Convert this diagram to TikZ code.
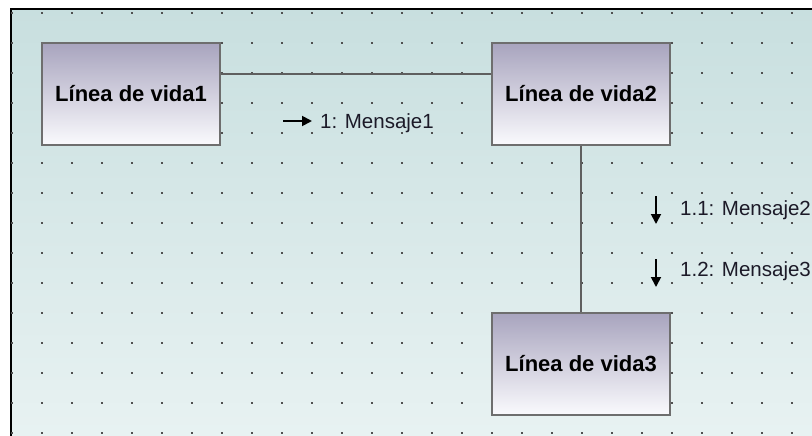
\documentclass[tikz,border=0pt]{standalone}
\usepackage{fontspec}
\setmainfont{Liberation Sans}
\usepackage{tikz}
\usetikzlibrary{arrows.meta}
\definecolor{gridTop}{RGB}{200,223,223}
\definecolor{gridLow}{RGB}{232,242,242}
\definecolor{dotGray}{RGB}{80,80,80}
\definecolor{boxTop}{RGB}{168,164,190}
\definecolor{boxLow}{RGB}{250,250,253}
\definecolor{boxEdge}{RGB}{110,110,110}
\definecolor{linkGray}{RGB}{95,95,95}
\definecolor{msgText}{RGB}{28,26,40}

\begin{document}
\begin{tikzpicture}[x=1pt, y=-1pt,
    lifeline/.style={draw=boxEdge, line width=1.5pt, top color=boxTop, bottom color=boxLow,
      minimum width=178pt, minimum height=102pt, inner sep=0pt,
      font=\bfseries\fontsize{22}{26}\selectfont},
    link/.style={draw=linkGray, line width=1.6pt},
    msg/.style={-{Triangle[length=10pt,width=10pt]}, line width=1.8pt},
    msglabel/.style={anchor=base west, inner sep=0pt, text=msgText,
      font=\fontsize{20.5}{24}\selectfont}]
    \useasboundingbox (0,0) rectangle (812,436);

    % diagram canvas with its frame
    \shade[top color=gridTop, bottom color=gridLow] (10,9) rectangle (812,436);
    \draw[line width=2pt] (11,436) -- (11,9) -- (812,9);

    % dot grid
    \foreach \i in {0,...,26}
      \foreach \j in {0,...,14}
        \fill[dotGray] (10.7+30*\i,12+30*\j) rectangle +(2,2);

    % lifelines
    \node[lifeline] (vida1) at (131,94) {Línea de vida1};
    \node[lifeline] (vida2) at (581,94) {Línea de vida2};
    \node[lifeline] (vida3) at (581,364) {Línea de vida3};

    % links between lifelines
    \draw[link] ([yshift=20pt]vida1.east) -- ([yshift=20pt]vida2.west);
    \draw[link] (vida2.south) -- (vida3.north);

    % message 1 (left to right)
    \coordinate (m1from) at (283,121);
    \coordinate (m1to) at (312,121);
    \draw[msg] (m1from) -- (m1to);
    \node[msglabel] (m1) at (320,128.5) {1: Mensaje1};

    % message 1.1 (downwards)
    \coordinate (m2from) at (656,196);
    \coordinate (m2to) at (656,224);
    \draw[msg] (m2from) -- (m2to);
    \node[msglabel] (m2) at (680,215) {1.1: Mensaje2};

    % message 1.2 (downwards)
    \coordinate (m3from) at (656,259);
    \coordinate (m3to) at (656,287);
    \draw[msg] (m3from) -- (m3to);
    \node[msglabel] (m3) at (680,276.5) {1.2: Mensaje3};
\end{tikzpicture}
\end{document}
